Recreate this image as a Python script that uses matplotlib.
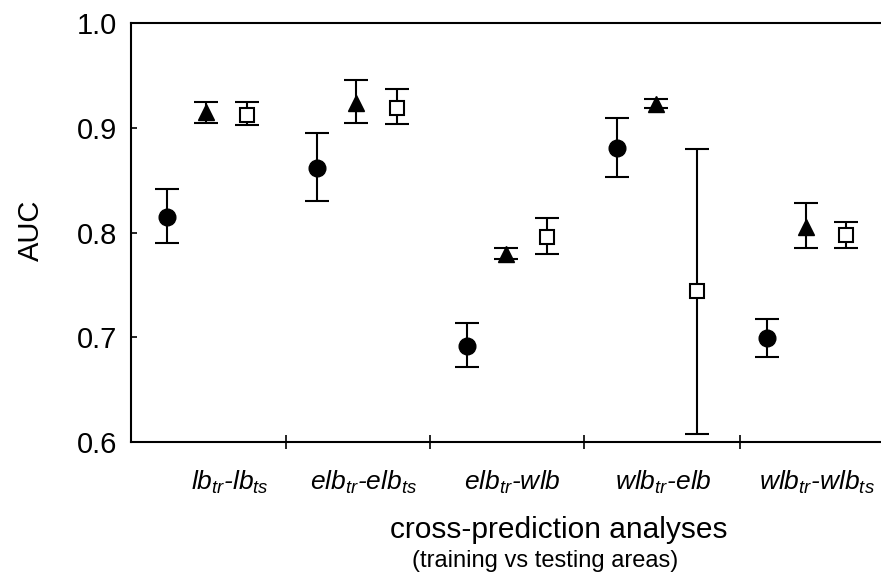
import matplotlib
matplotlib.use("Agg")
import matplotlib.pyplot as plt
import numpy as np

plt.rcParams['font.family'] = ['Liberation Sans', 'DejaVu Sans']
plt.rcParams['mathtext.fontset'] = 'custom'
plt.rcParams['mathtext.it'] = 'Liberation Sans:italic'
plt.rcParams['mathtext.rm'] = 'Liberation Sans'

# analyses (training vs testing areas)
groups = [r'$lb_{tr}$-$lb_{ts}$', r'$elb_{tr}$-$elb_{ts}$', r'$elb_{tr}$-$wlb$',
          r'$wlb_{tr}$-$elb$', r'$wlb_{tr}$-$wlb_{ts}$']

# filled circles
circle_auc = [0.815, 0.862, 0.692, 0.881, 0.699]
circle_lo = [0.790, 0.830, 0.672, 0.853, 0.681]
circle_hi = [0.842, 0.895, 0.714, 0.909, 0.717]

# filled triangles
tri_auc = [0.915, 0.924, 0.779, 0.923, 0.805]
tri_lo = [0.905, 0.905, 0.775, 0.919, 0.785]
tri_hi = [0.925, 0.946, 0.785, 0.927, 0.828]

# open squares
sq_auc = [0.912, 0.919, 0.796, 0.744, 0.798]
sq_lo = [0.903, 0.904, 0.779, 0.608, 0.785]
sq_hi = [0.925, 0.937, 0.814, 0.880, 0.810]

y_ticks = [0.6, 0.7, 0.8, 0.9, 1.0]
label_pos = [0.16, 1.05, 2.04, 3.05, 4.07]
sep_ticks = [0.53, 1.49, 2.52, 3.56]

fig = plt.figure(figsize=(8.81, 5.77), dpi=100)
ax = fig.add_axes([131 / 881, 1 - 442 / 577, 1 - 131 / 881, (442 - 23) / 577])

x = np.arange(len(groups))
series = [
    (x - 0.26, circle_auc, circle_lo, circle_hi, dict(marker='o', ms=12, mfc='black', mec='black')),
    (x, tri_auc, tri_lo, tri_hi, dict(marker='^', ms=11, mfc='black', mec='black')),
    (x + 0.27, sq_auc, sq_lo, sq_hi, dict(marker='s', ms=10.5, mfc='white', mec='black', mew=1.5)),
]
for xs, v, lo, hi, style in series:
    v = np.array(v)
    yerr = [v - np.array(lo), np.array(hi) - v]
    ax.errorbar(xs, v, yerr=yerr, fmt='none', ecolor='black', elinewidth=1.5,
                capsize=8.5, capthick=1.5, zorder=2)
    ax.plot(xs, v, linestyle='none', zorder=3, **style)

ax.set_xlim(-0.5, 4.5)
ax.set_ylim(0.6, 1.0)
ax.set_yticks(y_ticks)
ax.set_yticklabels([f'{t:.1f}' for t in y_ticks], fontsize=21)
ax.tick_params(axis='y', direction='in', length=4, width=1.2, pad=10)

ax.set_xticks(label_pos)
ax.set_xticklabels(groups, fontsize=19, fontstyle='italic')
ax.tick_params(axis='x', which='major', length=0, pad=19)
ax.set_xticks(sep_ticks, minor=True)
ax.tick_params(axis='x', which='minor', direction='inout', length=10, width=1.2)

ax.spines['right'].set_visible(False)
for s in ['left', 'top', 'bottom']:
    ax.spines[s].set_linewidth(1.5)

fig.text(31 / 881, 1 - 230 / 577, 'AUC', fontsize=21, rotation=90,
         ha='center', va='center')
fig.text(559 / 881, 1 - 530 / 577, 'cross-prediction analyses', fontsize=21.5,
         ha='center', va='center')
fig.text(545 / 881, 1 - 561 / 577, '(training vs testing areas)', fontsize=17,
         ha='center', va='center')

fig.savefig('out.png', dpi=100)
